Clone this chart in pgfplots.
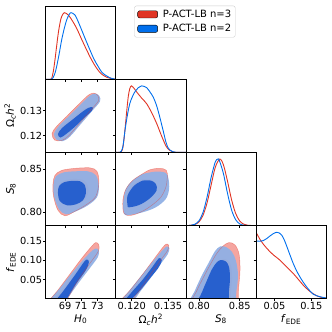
\documentclass[border=0pt]{standalone}
\usepackage{fontspec}
\setmainfont{DejaVu Sans}
\usepackage{pgfplots}
\pgfplotsset{compat=1.18}
\definecolor{redline}{HTML}{E03424}
\definecolor{blueline}{HTML}{006FED}
\definecolor{redA}{HTML}{F5A5A0}
\definecolor{redB}{HTML}{E3584D}
\definecolor{blueA}{HTML}{90B0E5}
\definecolor{blueB}{HTML}{1E5ACD}
\pgfplotsset{
 panel/.style={scale only axis, width=70.1pt, height=73.2pt, axis on top,
   tick align=outside, major tick length=2.5pt, xtick pos=left, ytick pos=left,
   tick style={black,line width=0.6pt}, axis line style={line width=0.7pt},
   xticklabel=\empty, yticklabel=\empty,
   /pgf/number format/assume math mode=true,
   ticklabel style={font=\fontsize{9.8}{11}\selectfont, inner sep=1pt},
   label style={font=\fontsize{10.5}{12}\selectfont},
   anchor=south west},
 colH/.style={xmin=66.6,xmax=75.3,xtick={69,71,73}},
 colO/.style={xmin=0.1134,xmax=0.1424,xtick={0.120,0.135}},
 colS/.style={xmin=0.784,xmax=0.870,xtick={0.80,0.85}},
 colF/.style={xmin=0,xmax=0.19,xtick={0.05,0.15}},
 rowO/.style={ymin=0.1134,ymax=0.1424,ytick={0.12,0.13}},
 rowS/.style={ymin=0.784,ymax=0.870,ytick={0.80,0.85}},
 rowF/.style={ymin=0,ymax=0.19,ytick={0.05,0.10,0.15}},
 diag/.style={ymin=0,ymax=1.1},
 r95/.style={fill=redA, draw=none, smooth, tension=0.55},
 r68/.style={fill=redB, draw=none, smooth, tension=0.55},
 b95/.style={fill=blueA, fill opacity=0.95, draw=none, smooth, tension=0.55},
 b68/.style={fill=blueB, fill opacity=0.92, draw=none, smooth, tension=0.55},
 rline/.style={draw=redline, draw opacity=0.4, line width=0.5pt, fill=none, smooth, tension=0.55},
 d1/.style={redline, line width=0.9pt, smooth, tension=0.5},
 d2/.style={blueline, line width=0.9pt, smooth, tension=0.5},
}
\begin{document}
\begin{tikzpicture}
\path[use as bounding box] (0,0) rectangle (332pt,332pt);

% ---------- row 1: H0 1D ----------
\begin{axis}[panel, colH, diag, ytick=\empty, at={(45.7pt,252.8pt)},
  legend image code/.code={\fill[#1] (0pt,-3.6pt) rectangle (20pt,3.6pt);},
  legend style={at={(1.264,1.004)}, anchor=north west, draw=black!20, rounded corners=2pt,
    font=\fontsize{10}{12}\selectfont, inner xsep=3pt, inner ysep=3pt, row sep=3.5pt,
    nodes={inner sep=1pt}, cells={anchor=west},
    /tikz/every odd column/.append style={column sep=4pt}}]
\addplot[d1, forget plot] coordinates {(66.6,0) (67.2,0.0) (67.34,0.01) (67.55,0.12) (67.75,0.29) (67.95,0.49) (68.16,0.69) (68.4,0.86) (68.58,0.94) (68.9,1.0) (69.4,0.965) (69.9,0.88) (70.44,0.765) (71.06,0.6) (71.68,0.44) (72.3,0.29) (72.92,0.165) (73.5,0.08) (74.16,0.03) (74.7,0.01) (75.3,0.0)};
\addplot[d2, forget plot] coordinates {(66.6,0) (67.3,0.0) (67.5,0.02) (67.75,0.09) (67.96,0.19) (68.27,0.38) (68.58,0.59) (68.9,0.76) (69.2,0.89) (69.5,0.97) (69.74,1.0) (70.23,0.965) (70.65,0.86) (71.06,0.74) (71.6,0.58) (72.09,0.44) (72.6,0.3) (73.12,0.19) (73.6,0.1) (74.16,0.05) (74.7,0.015) (75.3,0.0)};
\addlegendimage{fill=redline}
\addlegendentry{P-ACT-LB n=3}
\addlegendimage{fill=blueline}
\addlegendentry{P-ACT-LB n=2}
\end{axis}

% ---------- row 2 ----------
\begin{axis}[panel, colH, rowO, at={(45.7pt,179.6pt)}, yticklabels={0.12,0.13},
  ylabel={Ω\textsubscript{\textit{c}}\textit{h}\textsuperscript{2}}]
\addplot[r95] coordinates {(69.17,0.12758) (70.66,0.13234) (71.90,0.13610) (72.58,0.13689) (73.08,0.13590) (73.14,0.13372) (72.15,0.12996) (70.66,0.12442) (69.42,0.11986) (68.55,0.11808) (67.70,0.11830) (67.38,0.12085) (67.93,0.12362) (69.17,0.12758)};
\addplot[r68] coordinates {(69.56,0.12630) (70.80,0.12946) (71.50,0.13090) (72.00,0.13120) (71.98,0.12990) (71.05,0.12709) (69.81,0.12333) (68.82,0.12076) (68.13,0.11937) (67.82,0.12075) (68.32,0.12313) (69.56,0.12630)};
\addplot[b95] coordinates {(69.36,0.12738) (70.85,0.13214) (72.09,0.13590) (72.77,0.13669) (73.27,0.13570) (73.33,0.13352) (72.34,0.12976) (70.85,0.12422) (69.61,0.11966) (68.74,0.11788) (67.94,0.11847) (67.63,0.12065) (68.12,0.12342) (69.36,0.12738)};
\addplot[b68] coordinates {(69.86,0.12620) (71.10,0.12936) (71.84,0.13095) (72.40,0.13134) (72.34,0.12996) (71.35,0.12699) (70.11,0.12323) (69.12,0.12066) (68.43,0.11927) (68.12,0.12065) (68.62,0.12303) (69.86,0.12620)};
\addplot[rline] coordinates {(69.17,0.12758) (70.66,0.13234) (71.90,0.13610) (72.58,0.13689) (73.08,0.13590) (73.14,0.13372) (72.15,0.12996) (70.66,0.12442) (69.42,0.11986) (68.55,0.11808) (67.70,0.11830) (67.38,0.12085) (67.93,0.12362) (69.17,0.12758)};
\end{axis}

\begin{axis}[panel, colO, diag, ytick={0.2503,0.6297}, at={(115.8pt,179.6pt)}]
\addplot[d1] coordinates {(0.1134,0) (0.1150,0) (0.1157,0.01) (0.1162,0.05) (0.1168,0.2) (0.1174,0.42) (0.1180,0.65) (0.1186,0.85) (0.1192,0.96) (0.1199,1.0) (0.1210,0.96) (0.1220,0.91) (0.1240,0.82) (0.1261,0.735) (0.1282,0.6) (0.1303,0.435) (0.1322,0.26) (0.1341,0.1) (0.1355,0.035) (0.1370,0.008) (0.1390,0) (0.1424,0)};
\addplot[d2] coordinates {(0.1134,0) (0.1150,0) (0.1157,0.02) (0.1164,0.1) (0.1172,0.33) (0.1182,0.56) (0.1192,0.735) (0.1203,0.84) (0.1213,0.91) (0.1228,0.975) (0.1241,1.0) (0.1261,0.975) (0.1275,0.91) (0.1289,0.83) (0.1303,0.7) (0.1316,0.53) (0.1329,0.34) (0.1341,0.16) (0.1350,0.07) (0.1358,0.035) (0.1370,0.01) (0.1390,0) (0.1424,0)};
\end{axis}

% ---------- row 3 ----------
\begin{axis}[panel, colH, rowS, at={(45.7pt,106.4pt)}, yticklabels={0.80,0.85},
  ylabel={\textit{S}\textsubscript{8}}]
\addplot[r95] coordinates {(70.23,0.8513) (72.09,0.8519) (72.96,0.8478) (73.20,0.8349) (72.83,0.8184) (71.72,0.8090) (70.23,0.8008) (68.99,0.7955) (68.12,0.8020) (67.57,0.8184) (67.50,0.8325) (67.75,0.8431) (68.62,0.8490) (70.23,0.8513)};
\addplot[r68] coordinates {(70.23,0.8390) (71.35,0.8372) (71.84,0.8302) (71.84,0.8208) (71.35,0.8137) (70.35,0.8090) (69.24,0.8079) (68.37,0.8126) (68.12,0.8220) (68.25,0.8314) (68.99,0.8372) (70.23,0.8390)};
\addplot[b95] coordinates {(70.35,0.8478) (71.84,0.8478) (72.83,0.8431) (73.20,0.8302) (72.96,0.8173) (71.84,0.8079) (70.35,0.8008) (69.12,0.7973) (68.25,0.8032) (67.63,0.8184) (67.57,0.8325) (67.88,0.8419) (68.87,0.8466) (70.35,0.8478)};
\addplot[b68] coordinates {(69.86,0.8366) (70.85,0.8361) (71.47,0.8314) (71.59,0.8220) (71.22,0.8137) (70.35,0.8090) (69.24,0.8079) (68.37,0.8126) (68.12,0.8220) (68.25,0.8302) (68.87,0.8349) (69.86,0.8366)};
\addplot[rline] coordinates {(70.23,0.8513) (72.09,0.8519) (72.96,0.8478) (73.20,0.8349) (72.83,0.8184) (71.72,0.8090) (70.23,0.8008) (68.99,0.7955) (68.12,0.8020) (67.57,0.8184) (67.50,0.8325) (67.75,0.8431) (68.62,0.8490) (70.23,0.8513)};
\end{axis}

\begin{axis}[panel, colO, rowS, at={(115.8pt,106.4pt)}]
\addplot[r95] coordinates {(0.12418,0.8443) (0.12748,0.8496) (0.13161,0.8513) (0.13430,0.8490) (0.13471,0.8408) (0.13409,0.8290) (0.13203,0.8173) (0.12831,0.8079) (0.12437,0.8008) (0.11982,0.7961) (0.11675,0.7985) (0.11633,0.8137) (0.11757,0.8267) (0.12046,0.8372) (0.12418,0.8443)};
\addplot[r68] coordinates {(0.12417,0.8382) (0.12760,0.8385) (0.12966,0.8342) (0.12995,0.8261) (0.12689,0.8163) (0.12276,0.8092) (0.11863,0.8065) (0.11797,0.8085) (0.11797,0.8203) (0.12070,0.8320) (0.12417,0.8382)};
\addplot[b95] coordinates {(0.12447,0.8446) (0.12996,0.8475) (0.13409,0.8458) (0.13521,0.8388) (0.13545,0.8270) (0.13409,0.8153) (0.12996,0.8055) (0.12447,0.7996) (0.11893,0.7965) (0.11687,0.7976) (0.11646,0.8114) (0.11757,0.8270) (0.12034,0.8369) (0.12447,0.8446)};
\addplot[b68] coordinates {(0.12447,0.8369) (0.12790,0.8369) (0.12996,0.8329) (0.13025,0.8251) (0.12719,0.8153) (0.12306,0.8082) (0.11893,0.8055) (0.11827,0.8075) (0.11827,0.8193) (0.12100,0.8310) (0.12447,0.8369)};
\addplot[rline] coordinates {(0.12418,0.8443) (0.12748,0.8496) (0.13161,0.8513) (0.13430,0.8490) (0.13471,0.8408) (0.13409,0.8290) (0.13203,0.8173) (0.12831,0.8079) (0.12437,0.8008) (0.11982,0.7961) (0.11675,0.7985) (0.11633,0.8137) (0.11757,0.8267) (0.12046,0.8372) (0.12418,0.8443)};
\end{axis}

\begin{axis}[panel, colS, diag, ytick={0.2047,0.8442}, at={(185.9pt,106.4pt)}]
\addplot[d1] coordinates {(0.784,0) (0.790,0.004) (0.795,0.016) (0.800,0.055) (0.805,0.154) (0.810,0.343) (0.815,0.612) (0.820,0.874) (0.8255,1.0) (0.830,0.914) (0.835,0.67) (0.840,0.39) (0.845,0.184) (0.850,0.069) (0.855,0.021) (0.860,0.005) (0.865,0.001) (0.870,0)};
\addplot[d2] coordinates {(0.784,0) (0.790,0.004) (0.795,0.020) (0.800,0.071) (0.805,0.198) (0.810,0.43) (0.815,0.726) (0.820,0.956) (0.823,1.0) (0.825,0.980) (0.830,0.783) (0.835,0.487) (0.840,0.236) (0.845,0.089) (0.850,0.026) (0.855,0.006) (0.860,0.001) (0.870,0)};
\end{axis}

% ---------- row 4 ----------
\begin{axis}[panel, colH, rowF, at={(45.7pt,33.2pt)}, xticklabels={69,71,73},
  yticklabels={0.05,0.10,0.15},
  xlabel={\textit{H}\textsubscript{0}}, ylabel={\textit{f}\textsubscript{EDE}}]
\addplot[r95] coordinates {(67.7,-0.04) (66.63,-0.019) (68.12,0.0226) (69.61,0.0642) (71.10,0.1058) (72.34,0.1370) (72.83,0.1461) (73.20,0.1396) (73.08,0.1214) (71.84,0.0850) (70.48,0.0434) (69.36,0.0018) (68.80,-0.019) (67.7,-0.04)};
\addplot[r68] coordinates {(67.9,-0.04) (67.13,-0.019) (68.62,0.0226) (70.11,0.0642) (71.22,0.0954) (71.72,0.1045) (71.96,0.0980) (71.59,0.0772) (70.35,0.0408) (69.24,0.0018) (68.76,-0.019) (67.9,-0.04)};
\addplot[b95] coordinates {(67.9,-0.04) (66.75,-0.0164) (68.37,0.0278) (69.86,0.0668) (71.35,0.1032) (72.46,0.1266) (72.96,0.1305) (73.20,0.1240) (73.08,0.1084) (72.09,0.0798) (70.85,0.0460) (69.61,0.0096) (68.87,-0.0164) (67.9,-0.04)};
\addplot[b68] coordinates {(68.1,-0.04) (67.42,-0.019) (68.87,0.0226) (70.23,0.0616) (71.35,0.0954) (71.72,0.1019) (71.96,0.0954) (71.59,0.0746) (70.35,0.0382) (69.24,0) (68.69,-0.019) (68.1,-0.04)};
\addplot[rline] coordinates {(67.7,-0.04) (66.63,-0.019) (68.12,0.0226) (69.61,0.0642) (71.10,0.1058) (72.34,0.1370) (72.83,0.1461) (73.20,0.1396) (73.08,0.1214) (71.84,0.0850) (70.48,0.0434) (69.36,0.0018) (68.80,-0.019) (67.7,-0.04)};
\end{axis}

\begin{axis}[panel, colO, rowF, at={(115.8pt,33.2pt)}, xticklabels={0.120,0.135},
  xlabel={Ω\textsubscript{\textit{c}}\textit{h}\textsuperscript{2}}]
\addplot[r95] coordinates {(0.1165,-0.035) (0.11344,-0.0190) (0.11900,0.0200) (0.12395,0.0590) (0.12891,0.1006) (0.13263,0.1318) (0.13428,0.1422) (0.13531,0.1383) (0.13469,0.1240) (0.13139,0.0954) (0.12726,0.0590) (0.12354,0.0252) (0.11964,-0.0086) (0.11881,-0.0190) (0.1165,-0.035)};
\addplot[r68] coordinates {(0.1165,-0.035) (0.11468,-0.0190) (0.11881,0.0148) (0.12354,0.0486) (0.12767,0.0824) (0.12974,0.1006) (0.13097,0.1071) (0.13180,0.1019) (0.13015,0.0824) (0.12643,0.0512) (0.12271,0.0200) (0.11962,-0.0034) (0.11776,-0.0190) (0.1165,-0.035)};
\addplot[b95] coordinates {(0.1170,-0.035) (0.11406,-0.0190) (0.11922,0.0226) (0.12418,0.0616) (0.12955,0.1032) (0.13285,0.1266) (0.13450,0.1357) (0.13554,0.1318) (0.13492,0.1162) (0.13161,0.0876) (0.12748,0.0512) (0.12335,0.0174) (0.11964,-0.0164) (0.1170,-0.035)};
\addplot[b68] coordinates {(0.1170,-0.035) (0.11551,-0.0190) (0.11964,0.0148) (0.12437,0.0486) (0.12850,0.0824) (0.13056,0.1006) (0.13159,0.1058) (0.13242,0.0993) (0.13097,0.0798) (0.12726,0.0512) (0.12354,0.0226) (0.11993,-0.0008) (0.11757,-0.0190) (0.1170,-0.035)};
\addplot[rline] coordinates {(0.1165,-0.035) (0.11344,-0.0190) (0.11900,0.0200) (0.12395,0.0590) (0.12891,0.1006) (0.13263,0.1318) (0.13428,0.1422) (0.13531,0.1383) (0.13469,0.1240) (0.13139,0.0954) (0.12726,0.0590) (0.12354,0.0252) (0.11964,-0.0086) (0.11881,-0.0190) (0.1165,-0.035)};
\end{axis}

\begin{axis}[panel, colS, rowF, at={(185.9pt,33.2pt)}, xticklabels={0.80,0.85},
  xlabel={\textit{S}\textsubscript{8}}]
\addplot[r95] coordinates {(0.818,-0.035) (0.7904,-0.0190) (0.7977,0.0226) (0.8063,0.0590) (0.8149,0.0928) (0.8222,0.1188) (0.8296,0.1370) (0.8369,0.1461) (0.8443,0.1396) (0.8492,0.1162) (0.8504,0.0746) (0.8486,0.0278) (0.8455,-0.0190) (0.818,-0.035)};
\addplot[r68] coordinates {(0.82,-0.035) (0.8002,-0.0190) (0.8063,0.0174) (0.8124,0.0486) (0.8185,0.0772) (0.8247,0.0954) (0.8296,0.1032) (0.8357,0.0993) (0.8394,0.0850) (0.8406,0.0538) (0.8394,0.0226) (0.8369,-0.0190) (0.82,-0.035)};
\addplot[b95] coordinates {(0.815,-0.035) (0.7879,-0.0190) (0.7953,0.0226) (0.8038,0.0616) (0.8124,0.0954) (0.8198,0.1240) (0.8259,0.1357) (0.8332,0.1344) (0.8406,0.1214) (0.8455,0.0980) (0.8479,0.0616) (0.8461,0.0226) (0.8418,-0.0190) (0.815,-0.035)};
\addplot[b68] coordinates {(0.818,-0.035) (0.7977,-0.0190) (0.8038,0.0174) (0.8100,0.0486) (0.8161,0.0772) (0.8222,0.0954) (0.8271,0.1006) (0.8332,0.0967) (0.8369,0.0824) (0.8381,0.0538) (0.8369,0.0226) (0.8345,-0.0190) (0.818,-0.035)};
\addplot[rline] coordinates {(0.818,-0.035) (0.7904,-0.0190) (0.7977,0.0226) (0.8063,0.0590) (0.8149,0.0928) (0.8222,0.1188) (0.8296,0.1370) (0.8369,0.1461) (0.8443,0.1396) (0.8492,0.1162) (0.8504,0.0746) (0.8486,0.0278) (0.8455,-0.0190) (0.818,-0.035)};
\end{axis}

\begin{axis}[panel, colF, diag, ytick={0.2895,0.5789,0.8684}, at={(256pt,33.2pt)},
  xticklabels={0.05,0.15}, xlabel={\textit{f}\textsubscript{EDE}}]
\addplot[d1] coordinates {(0,1.0) (0.005,0.95) (0.01,0.9) (0.02,0.82) (0.029,0.76) (0.045,0.67) (0.065,0.58) (0.083,0.48) (0.101,0.38) (0.115,0.29) (0.128,0.205) (0.14,0.14) (0.151,0.09) (0.16,0.06) (0.169,0.035) (0.18,0.017) (0.19,0.01)};
\addplot[d2] coordinates {(0,0.87) (0.011,0.865) (0.02,0.875) (0.029,0.905) (0.038,0.945) (0.047,0.98) (0.056,1.0) (0.063,0.99) (0.070,0.955) (0.077,0.88) (0.084,0.78) (0.092,0.66) (0.101,0.53) (0.11,0.42) (0.119,0.33) (0.128,0.25) (0.137,0.18) (0.146,0.12) (0.155,0.07) (0.165,0.045) (0.178,0.025) (0.19,0.012)};
\end{axis}
\end{tikzpicture}
\end{document}
